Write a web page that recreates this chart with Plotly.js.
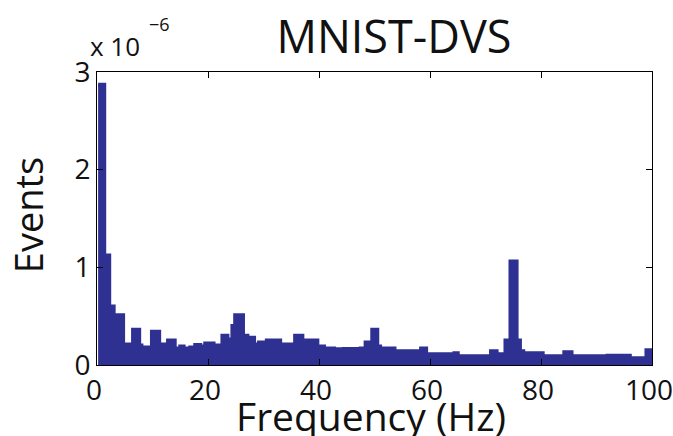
<!DOCTYPE html>
<html>
<head>
<meta charset="utf-8">
<script src="https://cdn.plot.ly/plotly-3.0.1.min.js"></script>
<style>
html,body{margin:0;padding:0;background:#fff;}
#chart{width:673px;height:436px;}
</style>
</head>
<body>
<div id="chart"></div>
<script>
// Frequency (Hz) where each step of the spectrum envelope starts
const freqHz = [0.2, 1.3, 2.2, 3.0, 3.6, 4.7, 6.5, 7.6, 8.0, 9.9,
  11.2, 12.8, 14.0, 15.0, 15.6, 16.8, 17.7, 18.6, 19.5, 21.0,
  22.6, 23.5, 24.4, 24.9, 26.3, 27.1, 28.3, 29.2, 30.6, 33.0,
  35.7, 37.0, 38.2, 38.8, 39.7, 40.9, 42.7, 44.5, 47.5, 48.4,
  49.6, 50.5, 51.0, 53.6, 58.4, 59.3, 64.4, 65.0, 71.0, 72.0,
  73.6, 74.5, 75.6, 76.2, 76.8, 80.3, 84.2, 85.5, 89.4, 92.0,
  96.0, 99.0, 100.0];
// Events (x 10^-6), upper envelope of the spectrum
const events = [2.87, 1.12, 0.60, 0.45, 0.51, 0.21, 0.36, 0.20, 0.18, 0.34,
  0.21, 0.25, 0.17, 0.19, 0.17, 0.18, 0.205, 0.19, 0.22, 0.20,
  0.30, 0.26, 0.40, 0.51, 0.30, 0.28, 0.21, 0.23, 0.25, 0.21,
  0.30, 0.25, 0.19, 0.25, 0.19, 0.17, 0.16, 0.165, 0.17, 0.23,
  0.36, 0.19, 0.17, 0.14, 0.17, 0.11, 0.12, 0.09, 0.14, 0.11,
  0.25, 1.06, 0.25, 0.14, 0.12, 0.09, 0.13, 0.09, 0.09, 0.095,
  0.07, 0.15, 0.15];
const xTicks = [0, 20, 40, 60, 80, 100];
const yTicks = [0, 1, 2, 3];

const blue = 'rgb(46,49,146)';
const font = '"Open Sans", "DejaVu Sans", sans-serif';

const trace = {
  x: freqHz, y: events, type: 'scatter', mode: 'lines',
  line: {color: blue, width: 4, shape: 'hv'},
  fill: 'tozeroy', fillcolor: blue, hoverinfo: 'skip'
};

const axisCommon = {
  showline: true, linecolor: '#000', linewidth: 1, mirror: 'ticks',
  ticks: 'inside', ticklen: 6, tickcolor: '#000', tickwidth: 1,
  showgrid: false, zeroline: false, ticklabeloverflow: 'allow',
  tickfont: {family: font, size: 28, color: '#111'}
};

const layout = {
  width: 673, height: 436,
  margin: {l: 97, r: 21, t: 72, b: 71},
  paper_bgcolor: '#fff', plot_bgcolor: '#fff',
  showlegend: false,
  title: {text: 'MNIST-DVS', font: {family: font, size: 45, color: '#111'},
          x: 0.535, xref: 'paper', xanchor: 'center', y: 0.915, yref: 'container', yanchor: 'middle'},
  xaxis: Object.assign({}, axisCommon, {
    range: [0, 100], tickvals: xTicks, ticktext: xTicks.map(String), ticklabelshift: -3
  }),
  yaxis: Object.assign({}, axisCommon, {
    range: [0, 3], tickvals: yTicks, ticktext: yTicks.map(String)
  }),
  annotations: [
    {text: 'Frequency (Hz)', xref: 'paper', yref: 'paper', x: 0.493, y: -0.173,
     xanchor: 'center', yanchor: 'middle', showarrow: false,
     font: {family: font, size: 39, color: '#111'}},
    {text: 'Events', xref: 'paper', yref: 'paper', x: -0.124, y: 0.512, textangle: -90,
     xanchor: 'center', yanchor: 'middle', showarrow: false,
     font: {family: font, size: 38, color: '#111'}},
    {text: 'x 10', xref: 'paper', yref: 'paper', x: 0.032, y: 1.089,
     xanchor: 'center', yanchor: 'middle', showarrow: false,
     font: {family: font, size: 26, color: '#111'}},
    {text: '\u22126', xref: 'paper', yref: 'paper', x: 0.112, y: 1.164,
     xanchor: 'center', yanchor: 'middle', showarrow: false,
     font: {family: font, size: 18, color: '#111'}}
  ]
};

Plotly.newPlot('chart', [trace], layout, {displayModeBar: false, staticPlot: true});
</script>
</body>
</html>
